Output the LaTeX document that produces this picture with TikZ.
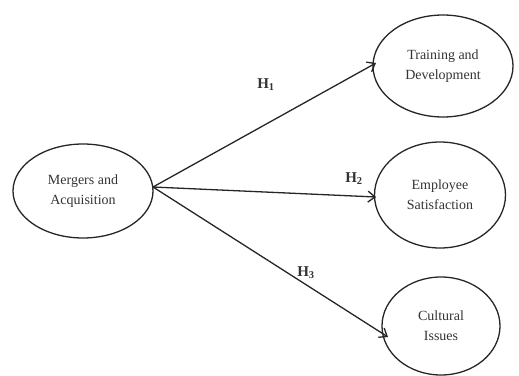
\documentclass[tikz,border=0pt]{standalone}
\usepackage{fontspec}
\setmainfont{Liberation Serif}
\usetikzlibrary{arrows.meta,shapes.geometric}
\begin{document}
\begin{tikzpicture}[x=1pt,y=-1pt,
  oval/.style={draw=black!85, line width=1.3pt, ellipse, inner sep=0pt, align=center, font=\fontsize{14}{20}\selectfont, text=black!80},
  link/.style={draw=black!85, line width=1.3pt, -{Straight Barb[length=7pt,width=11pt,line width=1.3pt]}},
  hyp/.style={font=\fontsize{15}{18}\selectfont\bfseries, text=black!80}]
\useasboundingbox (0,0) rectangle (519,375);
\node[oval, minimum width=140pt, minimum height=94pt] (ma) at (83,191) {Mergers and\\Acquisition};
\node[oval, minimum width=140pt, minimum height=102pt] (td) at (443,66) {Training and\\Development};
\node[oval, minimum width=131pt, minimum height=106pt] (es) at (440,195) {Employee\\Satisfaction};
\node[oval, minimum width=118pt, minimum height=98pt] (ci) at (441,326) {Cultural\\Issues};
\coordinate (s) at (153,187);
\coordinate (e1) at (376,63);
\coordinate (e2) at (376,197);
\coordinate (e3) at (388,337);
\draw[link] (s) -- (e1);
\draw[link] (s) -- (e2);
\draw[link] (s) -- (e3);
\node[hyp] (h1) at (266,85) {H$_{\mathbf{1}}$};
\node[hyp] (h2) at (354,179) {H$_{\mathbf{2}}$};
\node[hyp] (h3) at (306,273) {H$_{\mathbf{3}}$};
\end{tikzpicture}
\end{document}
